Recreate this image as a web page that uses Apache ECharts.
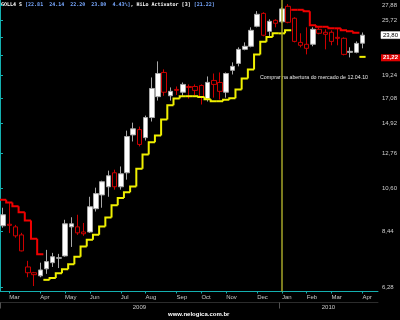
<!DOCTYPE html>
<html>
<head>
<meta charset="utf-8">
<script src="https://cdn.jsdelivr.net/npm/echarts@6/dist/echarts.min.js"></script>
<style>html,body{margin:0;padding:0;background:#000;}#c{width:400px;height:320px;}</style>
</head>
<body>
<div id="c"></div>
<script>
var weeks = ['2009-02-23','2009-03-02','2009-03-09','2009-03-16','2009-03-23','2009-03-30','2009-04-06','2009-04-13','2009-04-20','2009-04-27','2009-05-04','2009-05-11','2009-05-18','2009-05-25','2009-06-01','2009-06-08','2009-06-15','2009-06-22','2009-06-29','2009-07-06','2009-07-13','2009-07-20','2009-07-27','2009-08-03','2009-08-10','2009-08-17','2009-08-24','2009-08-31','2009-09-07','2009-09-14','2009-09-21','2009-09-28','2009-10-05','2009-10-12','2009-10-19','2009-10-26','2009-11-02','2009-11-09','2009-11-16','2009-11-23','2009-11-30','2009-12-07','2009-12-14','2009-12-21','2009-12-28','2010-01-04','2010-01-11','2010-01-18','2010-01-25','2010-02-01','2010-02-08','2010-02-15','2010-02-22','2010-03-01','2010-03-08','2010-03-15','2010-03-22','2010-03-29','2010-04-05','2010-04-12','2010-04-19'];
var monthNames = ['Jan','Feb','Mar','Apr','May','Jun','Jul','Aug','Sep','Oct','Nov','Dec'];
var yearLabels = ['2009','2010'];

var opens  = [8.68,8.75,8.63,8.27,6.98,6.77,6.66,6.91,7.14,7.31,7.40,8.63,8.63,8.40,8.40,9.50,10.22,10.67,11.49,10.67,11.49,14.04,14.44,13.84,15.39,17.19,19.54,17.27,17.86,17.60,18.14,18.14,18.24,17.01,18.73,18.53,17.60,19.76,20.50,22.08,22.44,24.94,26.71,24.29,25.75,25.55,27.73,26.03,22.91,22.68,22.68,24.55,24.17,24.17,23.53,23.41,21.73,21.73,22.81];
var highs  = [9.55,9.80,8.72,8.36,7.21,6.80,7.14,7.64,7.52,7.48,8.96,9.08,9.20,8.81,10.12,10.62,11.02,11.62,11.68,11.88,14.36,14.98,14.67,15.55,19.03,20.72,19.86,18.05,18.14,18.53,18.34,18.34,18.34,19.13,19.43,19.54,19.54,20.61,22.32,22.91,24.81,27.03,26.87,25.89,25.89,27.60,28.05,26.17,24.04,24.81,24.81,24.81,24.55,24.42,24.68,23.53,22.32,23.03,24.14];
var lows   = [8.59,8.35,8.15,7.58,6.61,6.31,6.61,6.73,6.98,6.94,7.37,7.76,8.27,8.23,8.36,9.36,9.55,10.12,10.51,10.51,11.08,13.56,13.21,13.63,15.07,16.84,17.27,16.84,17.35,17.27,17.01,17.35,16.49,16.75,17.10,16.93,17.10,19.33,20.18,21.97,22.32,24.81,23.66,23.53,24.81,25.35,25.35,22.91,22.32,21.50,22.44,23.91,22.08,22.56,22.56,21.39,21.16,21.62,22.20];
var closes = [9.20,8.70,8.23,7.60,6.77,6.70,6.87,7.18,7.37,7.33,8.77,8.77,8.36,8.32,9.60,10.29,10.96,11.31,10.67,11.43,13.92,14.50,13.35,15.39,17.95,19.43,17.60,17.68,17.77,18.34,18.05,17.77,17.19,18.54,18.34,17.68,19.43,20.18,22.08,22.44,24.42,26.58,23.79,25.61,25.35,27.35,25.48,23.03,22.56,22.20,24.55,24.04,23.91,23.03,23.41,21.50,21.85,22.79,23.80];

var hiloRed = [9.96,9.82,9.62,9.33,8.93,8.10,7.47,null,null,null,null,null,null,null,null,null,null,null,null,null,null,null,null,null,null,null,null,null,null,null,null,null,null,null,null,null,null,null,null,null,null,null,null,null,null,null,null,27.22,27.22,27.01,25.08,24.88,24.88,24.68,24.68,24.42,24.29,24.10,null,null];
var hiloYellow = [null,null,null,null,null,null,null,6.52,6.58,6.75,6.90,7.08,7.37,7.78,8.06,8.28,8.65,9.07,9.67,10.05,10.36,10.69,11.73,12.65,13.50,13.99,15.23,16.43,17.02,17.23,17.23,17.23,17.15,16.95,16.78,16.78,16.90,17.05,17.86,18.93,19.86,21.50,23.00,23.57,24.03,24.03,24.42,null,null,null,null,null,null,null,null,null,null,null,21.22,null];

var yTickValues = [6.28,8.44,10.60,12.76,14.92,17.08,19.24,21.40,23.56,25.72,27.88];
var yLabelValues = [6.28,8.44,10.60,12.76,14.92,17.08,19.24,25.72,27.88];
var yMin = 6.13, yMax = 28.67;
var signalWeek = '2010-01-04';
var signalText = 'Comprar na abertura do mercado de 12.04.10';
var ticker = 'GOLL4 S';
var indicatorName = 'HiLo Activator [3]';
var site = 'www.nelogica.com.br';

var L = Math.log;
var candleData = opens.map(function(o, i){ return [L(o), L(closes[i]), L(lows[i]), L(highs[i])]; });
function hiloSeriesData(arr){
  var out = [];
  arr.forEach(function(v, i){
    if (v == null) return;
    var p = (i > 0 && arr[i-1] != null) ? L(arr[i-1]) : null;
    out.push([i, L(v), p]);
  });
  return out;
}
function isMonthStart(i){ return i > 0 && i < weeks.length && weeks[i].slice(0,7) !== weeks[i-1].slice(0,7); }
function fmt(v){ return v.toFixed(2).replace('.', ','); }
var n = closes.length;
var lastClose = closes[n-1], prevClose = closes[n-2];
var pct = ((lastClose/prevClose - 1)*100).toFixed(2) + '%';
var lastHilo = hiloYellow[n-1] != null ? hiloYellow[n-1] : hiloRed[n-1];
var headerBlue = '[' + opens[n-1].toFixed(2) + '  ' + highs[n-1].toFixed(2) + '  ' + lows[n-1].toFixed(2) + '  ' + lastClose.toFixed(2) + '  ' + pct + ']';
var splitIdx = weeks.indexOf('2010-01-04');

function hiloRender(color){
  return function(params, api){
    var i = api.value(0), v = api.value(1), p = api.value(2);
    var c = api.coord([i, v]);
    var bw = api.size([1, 0])[0];
    var xL = c[0] - bw/2, xR = c[0] + bw/2;
    var pts = [];
    if (p != null && !isNaN(p)) { var cp = api.coord([i, p]); pts.push([xL, cp[1]]); }
    pts.push([xL, c[1]]); pts.push([xR, c[1]]);
    return {type:'polyline', shape:{points:pts}, style:{stroke:color, lineWidth:2, fill:null, lineJoin:'miter'}};
  };
}

var cyan = '#14b0b0';
var chart = echarts.init(document.getElementById('c'), null, {renderer:'canvas'});
chart.setOption({
  backgroundColor:'#000',
  animation:false,
  grid:{left:0, right:21.3, top:0, bottom:28.5, containLabel:false},
  xAxis:[{
    type:'category', data:weeks, boundaryGap:true,
    axisLine:{show:true, lineStyle:{color:cyan, width:1}},
    axisTick:{show:true, alignWithLabel:true, length:2, lineStyle:{color:cyan}, interval:function(i){ return isMonthStart(i); }},
    axisLabel:{show:true, interval:function(i){ return isMonthStart(i); }, formatter:function(v){ return monthNames[parseInt(v.slice(5,7),10)-1]; }, color:'#c8c8c8', fontSize:6, fontFamily:'Liberation Sans', align:'left', margin:3},
    splitLine:{show:false}
  },{
    type:'value', min:0, max:weeks.length, position:'bottom', offset:11,
    axisLine:{show:true, onZero:false, lineStyle:{color:'#2c2c2c', width:1}},
    axisTick:{show:true, customValues:[0, splitIdx], length:6, lineStyle:{color:'#505050'}},
    axisLabel:{show:true, customValues:[splitIdx/2, (splitIdx+weeks.length)/2], formatter:function(v){ return v < splitIdx ? yearLabels[0] : yearLabels[1]; }, color:'#c8c8c8', fontSize:6, fontFamily:'Liberation Sans', margin:2},
    splitLine:{show:false}
  }],
  yAxis:{
    type:'value', position:'right', min:L(yMin), max:L(yMax), scale:true,
    axisLine:{show:true, lineStyle:{color:cyan, width:1}},
    axisTick:{show:true, customValues:yTickValues.map(L), length:3, lineStyle:{color:cyan}},
    axisLabel:{show:true, customValues:yLabelValues.map(L), formatter:function(v){ return fmt(Math.exp(v)); }, color:'#d0d0d0', fontSize:6, fontFamily:'Liberation Sans', margin:4},
    splitLine:{show:false}
  },
  series:[{
    type:'candlestick', data:candleData, barWidth:5,
    itemStyle:{color:'#ffffff', color0:'#000000', borderColor:'#a8a8a8', borderColor0:'#cc0000', borderWidth:1},
    markLine:{
      silent:true, symbol:['none','none'], animation:false,
      data:[
        {xAxis:signalWeek, lineStyle:{color:'#a4a428', width:1.5, type:'solid'}, label:{show:false}},
        {yAxis:L(lastClose), lineStyle:{color:'rgba(0,0,0,0)', width:0}, label:{show:true, position:'end', distance:3, formatter:fmt(lastClose), color:'#000', backgroundColor:'#ffffff', borderColor:'#888', borderWidth:0.5, padding:[1,2,0,2], fontSize:6, fontFamily:'Liberation Sans'}},
        {yAxis:L(lastHilo), lineStyle:{color:'rgba(0,0,0,0)', width:0}, label:{show:true, position:'end', distance:3, formatter:fmt(lastHilo), color:'#ffffff', backgroundColor:'#e00000', padding:[1,2,0,2], fontSize:6, fontWeight:'bold', fontFamily:'Liberation Sans'}}
      ]
    }
  },{
    type:'custom', data:hiloSeriesData(hiloRed), encode:{x:0, y:1}, renderItem:hiloRender('#f00000'), z:3
  },{
    type:'custom', data:hiloSeriesData(hiloYellow), encode:{x:0, y:1}, renderItem:hiloRender('#f0f000'), z:3
  }],
  graphic:[
    {type:'text', left:1, top:2, style:{text:'{w|' + ticker + ' }{b|' + headerBlue + '}{w|, ' + indicatorName + ' }{b|[' + lastHilo.toFixed(2) + ']}', rich:{w:{fill:'#ffffff', fontSize:5, fontWeight:'bold', fontFamily:'DejaVu Sans Mono'}, b:{fill:'#78a8ff', fontSize:5, fontWeight:'bold', fontFamily:'DejaVu Sans Mono'}}}},
    {type:'text', left:260, top:75, style:{text:signalText, fill:'#e8e8e8', fontSize:5.3, fontFamily:'Liberation Sans'}},
    {type:'text', left:168, top:311, style:{text:site, fill:'#ffffff', fontSize:6, fontWeight:'bold', fontFamily:'Liberation Sans'}}
  ]
});
</script>
</body>
</html>
